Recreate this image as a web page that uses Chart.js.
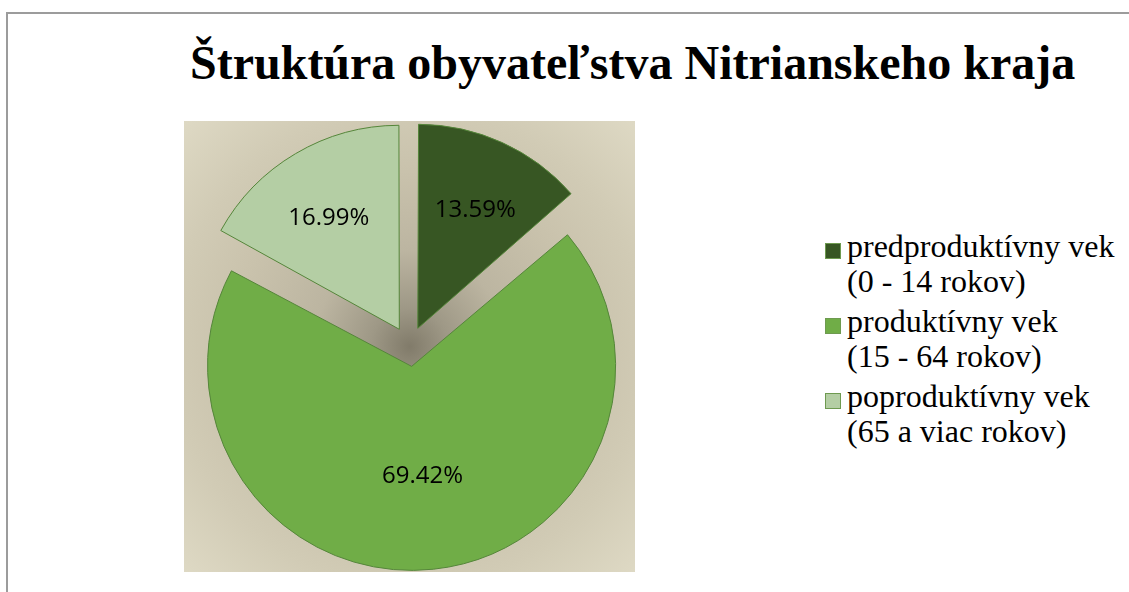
<!DOCTYPE html>
<html lang="sk">
<head>
<meta charset="utf-8">
<title>Štruktúra obyvateľstva Nitrianskeho kraja</title>
<script src="https://cdn.jsdelivr.net/npm/chart.js@4.4.1/dist/chart.umd.min.js"></script>
<style>
  html, body { margin: 0; padding: 0; background: #fff; overflow: hidden; }
  body { width: 1129px; height: 592px; position: relative; }
  .frame {
    position: absolute; left: 6px; top: 12px; width: 1123px; height: 580px;
    border-top: 2px solid #9c9c9c; border-left: 2px solid #9c9c9c;
  }
  .serif {
    font-family: "Liberation Serif", "Times New Roman", Tinos, "Nimbus Roman",
                 "FreeSerif", "DejaVu Serif", "Noto Serif", serif;
  }
  h1 {
    position: absolute; left: 190px; top: 39px; margin: 0;
    font-weight: bold; font-size: 48px; line-height: 1;
    color: #000; white-space: nowrap;
  }
  .plot { position: absolute; left: 184px; top: 121px; width: 451px; height: 451px; }
  ul.legend {
    position: absolute; left: 825px; top: 229px; margin: 0; padding: 0; list-style: none;
    font-size: 32px; line-height: 35px; color: #000;
  }
  ul.legend li { position: relative; padding-left: 22px; margin-bottom: 5px; white-space: nowrap; }
  ul.legend li span.box {
    position: absolute; left: 0; top: 14px; width: 16px; height: 16px;
    box-sizing: border-box; border: 1px solid #6e9a50;
  }
</style>
</head>
<body>
<div class="frame"></div>
<h1 id="title" class="serif"></h1>
<div class="plot"><canvas id="pie"></canvas></div>
<ul class="legend serif" id="legend"></ul>

<script>
// ── data ────────────────────────────────────────────────────────────────
const chartTitle  = 'Štruktúra obyvateľstva Nitrianskeho kraja';
const ageGroups   = [
  ['predproduktívny vek', '(0 - 14 rokov)'],
  ['produktívny vek', '(15 - 64 rokov)'],
  ['poproduktívny vek', '(65 a viac rokov)'],
];
const shares      = [13.59, 69.42, 16.99];   // % of population
const sliceColors = ['#375623', '#70ad47', '#b4cea4'];

const PIE_RADIUS  = 204;
const EXPLODE     = 80;    // Chart.js v4 moves an arc by offset / 4 → 20px

// ── plugins ─────────────────────────────────────────────────────────────
// radial beige/grey backdrop behind the pie (fills the chart area)
const plotBackground = {
  id: 'plotBackground',
  beforeDraw(chart) {
    const { ctx, chartArea: a } = chart;
    const cx = (a.left + a.right) / 2;
    const cy = (a.top + a.bottom) / 2;
    const r  = Math.hypot(a.width, a.height) / 2;
    const g  = ctx.createRadialGradient(cx, cy, 0, cx, cy, r);
    g.addColorStop(0,    '#817b6a');
    g.addColorStop(0.12, '#9e9886');
    g.addColorStop(0.3,  '#bcb5a1');
    g.addColorStop(0.55, '#c9c2ac');
    g.addColorStop(0.75, '#d1cbb5');
    g.addColorStop(1,    '#ded9c4');
    ctx.save();
    ctx.fillStyle = g;
    ctx.fillRect(a.left, a.top, a.width, a.height);
    ctx.restore();
  },
};

// v4 also grows an offset arc's radius by (offset/4)·(1 - sin(min(π, sweep))),
// which makes the big slice stick out; take that back so all slices are equal.
const evenRadius = {
  id: 'evenRadius',
  afterDatasetsUpdate(chart) {
    chart.getDatasetMeta(0).data.forEach((arc) => {
      const shift = (arc.options.offset || 0) / 4;
      const fix   = 1 - Math.sin(Math.min(Math.PI, arc.circumference));
      arc.outerRadius = PIE_RADIUS - shift * fix;
    });
  },
};

// percentage labels inside the slices
const sliceLabels = {
  id: 'sliceLabels',
  afterDatasetsDraw(chart) {
    const { ctx } = chart;
    const meta = chart.getDatasetMeta(0);
    ctx.save();
    ctx.font = '24px "Open Sans", sans-serif';
    ctx.fillStyle = '#000';
    ctx.textAlign = 'center';
    ctx.textBaseline = 'middle';
    meta.data.forEach((arc, i) => {
      const { x, y, startAngle, endAngle } =
        arc.getProps(['x', 'y', 'startAngle', 'endAngle'], true);
      const mid   = (startAngle + endAngle) / 2;
      const shift = (arc.options.offset || 0) / 4;
      const k     = endAngle - startAngle > Math.PI ? 0.5 : 0.68;
      const d     = shift + PIE_RADIUS * k;
      ctx.fillText(shares[i].toFixed(2) + '%', x + Math.cos(mid) * d, y + Math.sin(mid) * d + 8);
    });
    ctx.restore();
  },
};

// ── chart ───────────────────────────────────────────────────────────────
document.getElementById('title').textContent = chartTitle;

const chart = new Chart(document.getElementById('pie'), {
  type: 'pie',
  data: {
    labels: ageGroups,
    datasets: [{
      data: shares,
      backgroundColor: sliceColors,
      borderColor: '#55863a',
      borderWidth: 1,
      offset: EXPLODE,
      radius: PIE_RADIUS,
    }],
  },
  options: {
    responsive: true,
    maintainAspectRatio: false,
    animation: false,
    events: [],
    layout: { padding: 0 },
    plugins: {
      legend:  { display: false },
      tooltip: { enabled: false },
    },
  },
  plugins: [plotBackground, evenRadius, sliceLabels],
});

// legend built from the chart's own labels / colours
const legendEl = document.getElementById('legend');
chart.data.labels.forEach((lines, i) => {
  const li  = document.createElement('li');
  const box = document.createElement('span');
  box.className = 'box';
  box.style.background = sliceColors[i];
  li.appendChild(box);
  lines.forEach((t, j) => {
    if (j) li.appendChild(document.createElement('br'));
    li.appendChild(document.createTextNode(t));
  });
  legendEl.appendChild(li);
});
</script>
</body>
</html>
